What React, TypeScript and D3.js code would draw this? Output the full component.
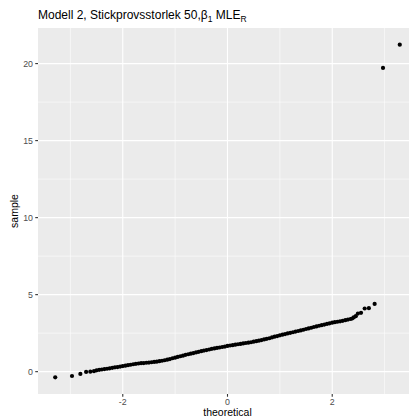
import React from "react";
import * as d3 from "d3";

// Normal QQ plot: theoretical quantiles vs. sorted sample values
const lowerTailTheoretical = [-3.29, -2.97, -2.81, -2.70, -2.62, -2.55];
const lowerTailSample = [-0.37, -0.28, -0.15, -0.02, 0.0, 0.03];

const bodyTheoretical = [
  -2.50, -2.45, -2.40, -2.35, -2.30, -2.25, -2.20, -2.15, -2.10, -2.05,
  -2.00, -1.95, -1.90, -1.85, -1.80, -1.75, -1.70, -1.65, -1.60, -1.55,
  -1.50, -1.45, -1.40, -1.35, -1.30, -1.25, -1.20, -1.15, -1.10, -1.05,
  -1.00, -0.95, -0.90, -0.85, -0.80, -0.75, -0.70, -0.65, -0.60, -0.55,
  -0.50, -0.45, -0.40, -0.35, -0.30, -0.25, -0.20, -0.15, -0.10, -0.05,
  0.00, 0.05, 0.10, 0.15, 0.20, 0.25, 0.30, 0.35, 0.40, 0.45,
  0.50, 0.55, 0.60, 0.65, 0.70, 0.75, 0.80, 0.85, 0.90, 0.95,
  1.00, 1.05, 1.10, 1.15, 1.20, 1.25, 1.30, 1.35, 1.40, 1.45,
  1.50, 1.55, 1.60, 1.65, 1.70, 1.75, 1.80, 1.85, 1.90, 1.95,
  2.00, 2.05, 2.10, 2.15, 2.20, 2.25, 2.30, 2.35, 2.38,
];
const bodySample = [
  0.09, 0.12, 0.14, 0.17, 0.19, 0.22, 0.25, 0.28, 0.30, 0.33,
  0.36, 0.39, 0.42, 0.45, 0.48, 0.51, 0.53, 0.55, 0.56, 0.58,
  0.59, 0.61, 0.63, 0.65, 0.68, 0.71, 0.74, 0.78, 0.82, 0.87,
  0.91, 0.96, 1.00, 1.04, 1.09, 1.13, 1.17, 1.21, 1.25, 1.29,
  1.33, 1.37, 1.40, 1.44, 1.48, 1.51, 1.54, 1.57, 1.60, 1.63,
  1.67, 1.70, 1.72, 1.75, 1.78, 1.80, 1.83, 1.86, 1.88, 1.91,
  1.95, 1.98, 2.01, 2.05, 2.09, 2.13, 2.17, 2.22, 2.27, 2.31,
  2.36, 2.40, 2.44, 2.48, 2.52, 2.56, 2.60, 2.64, 2.68, 2.72,
  2.77, 2.81, 2.85, 2.90, 2.94, 2.98, 3.02, 3.06, 3.10, 3.14,
  3.18, 3.21, 3.24, 3.27, 3.30, 3.34, 3.38, 3.42, 3.45,
];

const upperTailTheoretical = [2.41, 2.45, 2.49, 2.55, 2.62, 2.70, 2.81, 2.97, 3.29];
const upperTailSample = [3.52, 3.60, 3.77, 3.82, 4.10, 4.12, 4.40, 19.72, 21.23];

const xTicks = [-2, 0, 2];
const xMinor = [-3, -1, 1, 3];
const yTicks = [0, 5, 10, 15, 20];
const yMinor = [2.5, 7.5, 12.5, 17.5];

const W = 409;
const H = 418;
const FONT = "'Liberation Sans', Arial, Helvetica, sans-serif";

export default function App() {
  const theoretical = [...lowerTailTheoretical, ...bodyTheoretical, ...upperTailTheoretical];
  const sample = [...lowerTailSample, ...bodySample, ...upperTailSample];
  const pts = theoretical.map((t, i) => ({ t, s: sample[i] }));

  const tExt = d3.extent(theoretical) as [number, number];
  const sExt = d3.extent(sample) as [number, number];
  const tPad = (tExt[1] - tExt[0]) * 0.05;
  const sPad = (sExt[1] - sExt[0]) * 0.05;

  const panel = { left: 38, right: 417, top: 28, bottom: 394 };

  const x = d3.scaleLinear().domain([tExt[0] - tPad, tExt[1] + tPad]).range([panel.left, panel.right]);
  const y = d3.scaleLinear().domain([sExt[0] - sPad, sExt[1] + sPad]).range([panel.bottom, panel.top]);

  return (
    <svg
      width={W}
      height={H}
      style={{ position: "absolute", left: 0, top: 0, background: "#fff" }}
      fontFamily={FONT}
    >
      <defs>
        <clipPath id="panelClip">
          <rect x={panel.left} y={panel.top} width={panel.right - panel.left} height={panel.bottom - panel.top} />
        </clipPath>
      </defs>

      <rect x={panel.left} y={panel.top} width={panel.right - panel.left} height={panel.bottom - panel.top} fill="#EBEBEB" />

      <g clipPath="url(#panelClip)">
        {xMinor.map((v) => (
          <line key={"xm" + v} x1={x(v)} x2={x(v)} y1={panel.top} y2={panel.bottom} stroke="#fff" strokeWidth={0.55} />
        ))}
        {yMinor.map((v) => (
          <line key={"ym" + v} x1={panel.left} x2={panel.right} y1={y(v)} y2={y(v)} stroke="#fff" strokeWidth={0.55} />
        ))}
        {xTicks.map((v) => (
          <line key={"xg" + v} x1={x(v)} x2={x(v)} y1={panel.top} y2={panel.bottom} stroke="#fff" strokeWidth={1.1} />
        ))}
        {yTicks.map((v) => (
          <line key={"yg" + v} x1={panel.left} x2={panel.right} y1={y(v)} y2={y(v)} stroke="#fff" strokeWidth={1.1} />
        ))}
        {pts.map((p, i) => (
          <circle key={i} cx={x(p.t)} cy={y(p.s)} r={2.1} fill="#000" />
        ))}
      </g>

      {/* y axis */}
      {yTicks.map((v) => (
        <g key={"yt" + v}>
          <line x1={panel.left - 2.75} x2={panel.left} y1={y(v)} y2={y(v)} stroke="#333" strokeWidth={1.1} />
          <text x={panel.left - 5} y={y(v)} dy="0.34em" textAnchor="end" fontSize={8.8} fill="#4D4D4D">
            {v}
          </text>
        </g>
      ))}

      {/* x axis */}
      {xTicks.map((v) => (
        <g key={"xt" + v}>
          <line x1={x(v)} x2={x(v)} y1={panel.bottom} y2={panel.bottom + 2.75} stroke="#333" strokeWidth={1.1} />
          <text x={x(v)} y={panel.bottom + 10.5} textAnchor="middle" fontSize={8.8} fill="#4D4D4D">
            {v}
          </text>
        </g>
      ))}

      <text x={227.5} y={415.5} textAnchor="middle" fontSize={10.5} fill="#000">
        theoretical
      </text>
      <text transform={`translate(18,${(panel.top + panel.bottom) / 2}) rotate(-90)`} textAnchor="middle" fontSize={10.5} fill="#000">
        sample
      </text>

      <text x={38} y={19} fontSize={12} fill="#000">
        Modell 2, Stickprovsstorlek 50,β
        <tspan fontSize={8.5} dy={3}>1</tspan>
        <tspan dy={-3}> MLE</tspan>
        <tspan fontSize={8.5} dy={3}>R</tspan>
      </text>
    </svg>
  );
}
